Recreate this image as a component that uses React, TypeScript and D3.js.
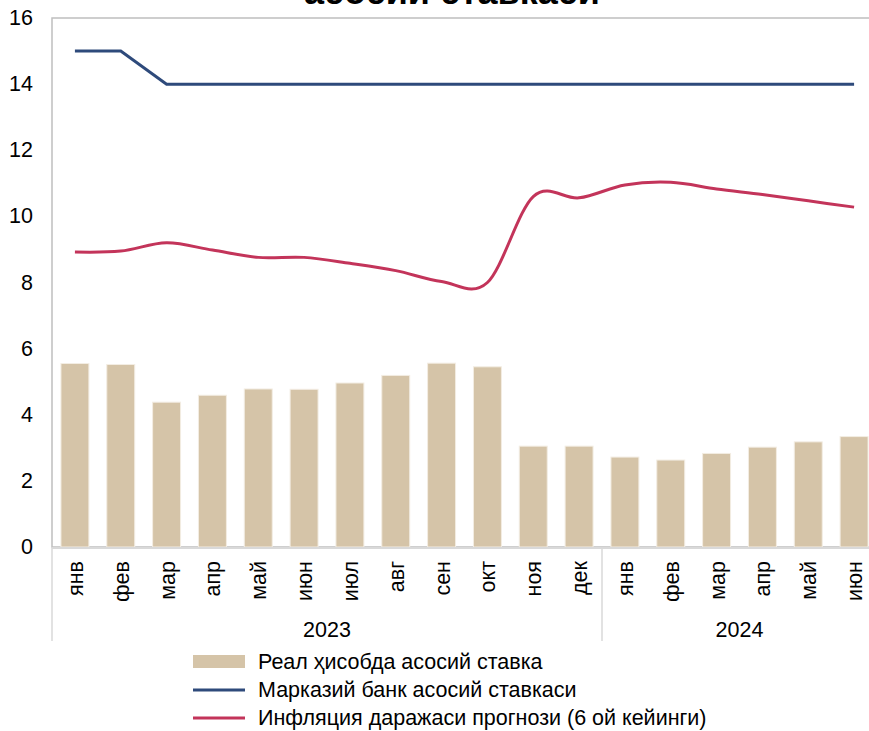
import React from "react";
import * as d3 from "d3";

const months = ["янв", "фев", "мар", "апр", "май", "июн", "июл", "авг", "сен", "окт", "ноя", "дек", "янв", "фев", "мар", "апр", "май", "июн"];
const years = [
  { label: "2023", from: 0, to: 12 },
  { label: "2024", from: 12, to: 18 },
];
const realRate = [5.55, 5.52, 4.38, 4.59, 4.78, 4.77, 4.96, 5.19, 5.56, 5.45, 3.05, 3.05, 2.72, 2.63, 2.83, 3.02, 3.18, 3.34];
const cbRate = [15, 15, 14, 14, 14, 14, 14, 14, 14, 14, 14, 14, 14, 14, 14, 14, 14, 14];
const inflation = [8.92, 8.95, 9.2, 8.98, 8.76, 8.76, 8.58, 8.36, 8.03, 8.0, 10.6, 10.56, 10.95, 11.03, 10.83, 10.66, 10.47, 10.28];
const yTicks = [0, 2, 4, 6, 8, 10, 12, 14, 16];
const legendLabels = ["Реал ҳисобда асосий ставка", "Марказий банк асосий ставкаси", "Инфляция даражаси прогнози (6 ой кейинги)"];
const titleText = "асосий ставкаси";

const W = 869;
const H = 731;
const FONT = "'Liberation Sans', Arial, sans-serif";
const FS = 21.5;
const BAR = "#D5C4A8";
const NAVY = "#2E4A7B";
const RED = "#C3345A";

export default function App() {
  const left = 52;
  const right = 877;
  const top = 18;
  const bottom = 547;
  const x = d3
    .scaleBand<number>()
    .domain(months.map((_, i) => i))
    .range([left, right])
    .paddingInner(0.39)
    .paddingOuter(0.195);
  const y = d3.scaleLinear().domain([0, 16]).range([bottom, top]);
  const cx = (i: number) => (x(i) as number) + x.bandwidth() / 2;
  const step = x.step();

  const cbLine = d3
    .line<number>()
    .x((_, i) => cx(i))
    .y((d) => y(d));
  const infLine = d3
    .line<number>()
    .x((_, i) => cx(i))
    .y((d) => y(d))
    .curve(d3.curveCatmullRom.alpha(0));

  const legY = [662, 690, 718];

  return (
    <svg width={W} height={H} style={{ position: "absolute", left: 0, top: 0, background: "#fff" }} fontFamily={FONT}>
      <rect x={0} y={0} width={W} height={H} fill="#fff" />
      <text x={452} y={4} textAnchor="middle" fontWeight="bold" fontSize={36} fill="#000">
        {titleText}
      </text>
      {/* plot frame */}
      <rect x={left} y={top} width={right - left} height={bottom - top} fill="none" stroke="#BFBFBF" strokeWidth={1.5} />
      {/* y ticks */}
      {yTicks.map((t) => (
        <text key={t} x={33} y={y(t)} textAnchor="end" dominantBaseline="central" fontSize={FS} fill="#000">
          {t}
        </text>
      ))}
      {/* bars */}
      {realRate.map((v, i) => (
        <rect
          key={i}
          x={x(i)}
          y={y(v)}
          width={x.bandwidth()}
          height={y(0) - y(v)}
          fill={BAR}
          stroke="#F3EDE3"
          strokeWidth={1}
        />
      ))}
      {/* x axis line */}
      <line x1={left} x2={right} y1={bottom + 1} y2={bottom + 1} stroke="#D9D9D9" strokeWidth={2} />
      {/* group separators */}
      {[0, 12, 18].map((b) => (
        <line
          key={b}
          x1={left + b * step}
          x2={left + b * step}
          y1={bottom}
          y2={641}
          stroke="#D9D9D9"
          strokeWidth={1.5}
        />
      ))}
      {/* month labels */}
      {months.map((m, i) => (
        <text
          key={i}
          transform={`translate(${cx(i) + 1},561) rotate(-90)`}
          textAnchor="end"
          dominantBaseline="central"
          fontSize={FS}
          fill="#000"
        >
          {m}
        </text>
      ))}
      {/* year labels */}
      {years.map((yr) => (
        <text
          key={yr.label}
          x={left + ((yr.from + yr.to) / 2) * step}
          y={630}
          textAnchor="middle"
          dominantBaseline="central"
          fontSize={FS}
          fill="#000"
        >
          {yr.label}
        </text>
      ))}
      {/* lines */}
      <path d={cbLine(cbRate) || ""} fill="none" stroke={NAVY} strokeWidth={3} />
      <path d={infLine(inflation) || ""} fill="none" stroke={RED} strokeWidth={3} />
      {/* legend */}
      <rect x={193} y={655} width={52} height={13} fill={BAR} />
      <line x1={193} x2={245} y1={legY[1]} y2={legY[1]} stroke={NAVY} strokeWidth={3} />
      <line x1={193} x2={245} y1={legY[2]} y2={legY[2]} stroke={RED} strokeWidth={3} />
      {legendLabels.map((l, i) => (
        <text key={i} x={258} y={legY[i]} dominantBaseline="central" fontSize={FS} fill="#000">
          {l}
        </text>
      ))}
    </svg>
  );
}
